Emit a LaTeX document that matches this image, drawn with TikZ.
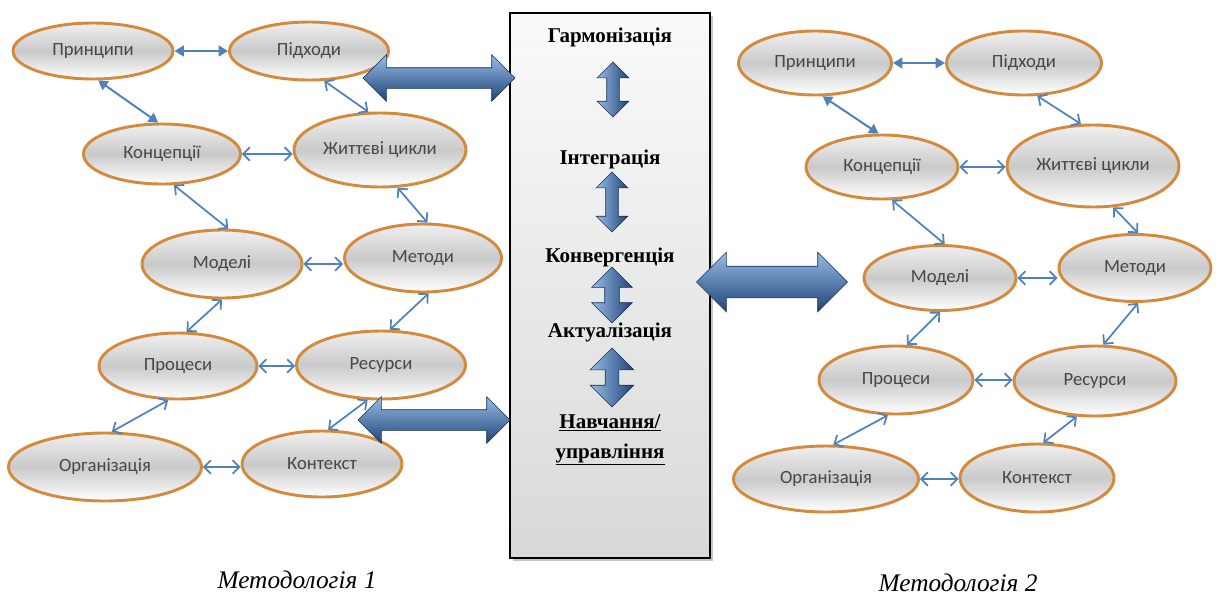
\documentclass[tikz,border=0pt]{standalone}
\usepackage{fontspec}
\setmainfont{Liberation Serif}
\newfontfamily\calibri{Carlito}
\usepackage{tikz}
\usetikzlibrary{shapes.geometric, shapes.arrows, arrows.meta, shadows, calc}

\definecolor{rim}{RGB}{212,138,60}
\definecolor{linkblue}{RGB}{79,129,189}
\definecolor{arrowlight}{RGB}{150,188,232}
\definecolor{arrowdark}{RGB}{32,68,118}

\tikzset{
  oval/.style 2 args={ellipse, draw=rim, line width=2.2pt,
    top color=gray!12, bottom color=white, middle color=gray!42,
    minimum width=#1*0.75pt, minimum height=#2*0.75pt, inner sep=0pt,
    font=\calibri\fontsize{14}{16}\selectfont, text=black!72},
  link/.style={draw=linkblue, line width=1.3pt,
    arrows={Straight Barb[length=5pt,width=10pt]-Straight Barb[length=5pt,width=10pt]}},
  solidlink/.style={draw=linkblue, line width=1.5pt,
    arrows={Triangle[length=7pt,width=8pt]-Triangle[length=7pt,width=8pt]}},
  bigarrow/.style={double arrow, draw=arrowdark!70!black, line width=0.5pt,
    top color=arrowlight, bottom color=arrowdark, double arrow tip angle=90},
  varrow/.style={bigarrow, shape border rotate=90, left color=arrowlight, right color=arrowdark},
  stage/.style={font=\bfseries\fontsize{15.75}{22.5}\selectfont, inner sep=0pt},
  caption/.style={font=\itshape\fontsize{19}{22}\selectfont, inner sep=0pt}
}

\begin{document}
\begin{tikzpicture}[x=0.75pt, y=-0.75pt]
  \useasboundingbox (0,0) rectangle (1230,596);

  % Methodology 1
  \node[oval={160}{56}] (p1) at (93,51) {Принципи};
  \node[oval={159}{58}] (pd1) at (309,51) {Підходи};
  \node[oval={157}{60}] (k1) at (162,154) {Концепції};
  \node[oval={172}{74}] (z1) at (380,150) {Життєві цикли};
  \node[oval={160}{68}] (m1) at (222,264) {Моделі};
  \node[oval={157}{68}] (me1) at (423,258) {Методи};
  \node[oval={158}{66}] (pr1) at (178,366) {Процеси};
  \node[oval={169}{68}] (r1) at (381,365) {Ресурси};
  \node[oval={193}{68}] (o1) at (105,467) {Організація};
  \node[oval={160}{66}] (ko1) at (322,464) {Контекст};

  \draw[solidlink] (p1.east) -- (pd1.west);
  \draw[solidlink] (p1.-80) -- (k1.97);
  \draw[link] (pd1.-63) -- (z1.107);
  \draw[link] (k1.east) -- (k1.east -| z1.west);
  \draw[link] (k1.-69) -- (m1.80);
  \draw[link] (z1.-65) -- (me1.83);
  \draw[link] (m1.east) -- (m1.east -| me1.west);
  \draw[link] (m1.-90) -- (pr1.76);
  \draw[link] (me1.-81) -- (r1.76);
  \draw[link] (pr1.east) -- (pr1.east -| r1.west);
  \draw[link] (pr1.254) -- (o1.79);
  \draw[link] (r1.249) -- (ko1.80);
  \draw[link] (o1.east) -- (o1.east -| ko1.west);

  % Methodology 2
  \node[oval={153}{64}] (p2) at (815,63) {Принципи};
  \node[oval={155}{64}] (pd2) at (1024,63) {Підходи};
  \node[oval={152}{64}] (k2) at (882,167) {Концепції};
  \node[oval={172}{82}] (z2) at (1093,166) {Життєві цикли};
  \node[oval={152}{65}] (m2) at (940,278) {Моделі};
  \node[oval={152}{67}] (me2) at (1135,268) {Методи};
  \node[oval={154}{68}] (pr2) at (896,380) {Процеси};
  \node[oval={162}{70}] (r2) at (1095,381) {Ресурси};
  \node[oval={185}{66}] (o2) at (826,479) {Організація};
  \node[oval={154}{68}] (ko2) at (1037,478) {Контекст};

  \draw[solidlink] (p2.east) -- (pd2.west);
  \draw[solidlink] (p2.-77) -- (k2.96);
  \draw[link] (pd2.-68) -- (z2.106);
  \draw[link] (k2.east) -- (k2.east -| z2.west);
  \draw[link] (k2.-73) -- (m2.82);
  \draw[link] (z2.-64) -- (me2.85);
  \draw[link] (m2.east) -- (m2.east -| me2.west);
  \draw[link] (m2.-90) -- (pr2.73);
  \draw[link] (me2.-85) -- (r2.77);
  \draw[link] (pr2.east) -- (pr2.east -| r2.west);
  \draw[link] (pr2.257) -- (o2.78);
  \draw[link] (r2.243) -- (ko2.80);
  \draw[link] (o2.east) -- (o2.east -| ko2.west);

  % central panel
  \node[draw=black, line width=1.6pt, top color=gray!4, bottom color=gray!30,
    minimum width=200*0.75pt, minimum height=545*0.75pt,
    drop shadow={shadow xshift=2.5pt, shadow yshift=-2.5pt, opacity=0.45}] (panel) at (610,285.5) {};

  \node[stage] (harm) at (610,37) {Гармонізація};
  \node[stage] (integ) at (610,159) {Інтеграція};
  \node[stage] (conv) at (610,257) {Конвергенція};
  \node[stage] (actual) at (610,332) {Актуалізація};
  \node[stage, align=center] (learn) at (610,440) {\underline{Навчання/}\\\underline{управління}};

  \node[varrow, inner sep=6*0.75pt, minimum height=55*0.75pt, double arrow head extend=9.5*0.75pt] (v1) at (613,89.5) {};
  \node[varrow, inner sep=6*0.75pt, minimum height=60*0.75pt, double arrow head extend=9.5*0.75pt] (v2) at (612,202) {};
  \node[varrow, inner sep=7*0.75pt, minimum height=56*0.75pt, double arrow head extend=13*0.75pt] (v3) at (612,295) {};
  \node[varrow, inner sep=6.5*0.75pt, minimum height=59*0.75pt, double arrow head extend=15*0.75pt] (v4) at (612,377.5) {};

  % links to the panel
  \node[bigarrow, inner sep=10*0.75pt, minimum height=152*0.75pt, double arrow head extend=13*0.75pt] (a1) at (439,78) {};
  \node[bigarrow, inner sep=10*0.75pt, minimum height=152*0.75pt, double arrow head extend=13*0.75pt] (a2) at (434,420) {};
  \node[bigarrow, inner sep=15.5*0.75pt, minimum height=151*0.75pt, double arrow head extend=14*0.75pt] (a3) at (772,282) {};

  \node[caption] (cap1) at (297,580) {Методологія 1};
  \node[caption] (cap2) at (958,583) {Методологія 2};
\end{tikzpicture}
\end{document}
